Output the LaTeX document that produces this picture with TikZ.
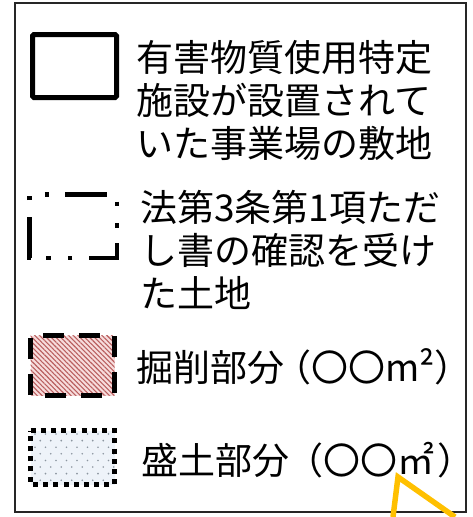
\documentclass[tikz,border=0pt]{standalone}
\usepackage{fontspec}
\newfontfamily\jp{Noto Sans CJK JP}
\usetikzlibrary{patterns.meta}
\definecolor{callgold}{RGB}{255,192,0}
\definecolor{cutpink}{RGB}{247,220,220}
\definecolor{cutline}{RGB}{185,95,95}
\definecolor{fillblue}{RGB}{238,243,249}
\definecolor{filldot}{RGB}{140,150,160}

\begin{document}
\begin{tikzpicture}[x=1pt,y=-1pt,
  legtext/.style={anchor=base west,inner sep=0pt,align=left,
    font=\jp\fontsize{37}{43}\selectfont},
  frame/.style={line width=2pt,draw=black!85},
  solidbox/.style={line width=5pt,rounded corners=1.5pt},
  dashdotbox/.style={line width=4.5pt,
    dash pattern=on 42pt off 17pt on 4.5pt off 17pt on 4.5pt off 15.67pt},
  cutbox/.style={line width=5pt,dash pattern=on 21pt off 15pt,dash phase=23.5pt},
  fillbox/.style={line width=5pt,dash pattern=on 5pt off 5.22pt},
  callout/.style={draw=callgold,line width=5.5pt}]
  \useasboundingbox (0,0) rectangle (472,517);
  % outer frame
  \draw[frame] (15,3) rectangle (466,512);
  % swatches
  \draw[solidbox] (32.5,34.5) rectangle (116.5,97.5);
  \draw[dashdotbox] (65,194.25) -- (116.75,194.25) -- (116.75,257.75)
    -- (29.25,257.75) -- (29.25,194.25) -- cycle;
  \fill[cutpink] (30.5,335.5) rectangle (114.5,395.5);
  \fill[pattern={Lines[angle=-45,distance=3.4pt,line width=1.1pt]},
    pattern color=cutline] (30.5,335.5) rectangle (114.5,395.5);
  \draw[cutbox] (30.5,335.5) -- (114.5,335.5) -- (114.5,395.5)
    -- (30.5,395.5) -- cycle;
  \fill[fillblue] (30.5,430.5) rectangle (114.5,484.5);
  \begin{scope}
    \clip (30.5,430.5) rectangle (114.5,484.5);
    \foreach \r in {0,...,8}
      \foreach \c in {0,...,8}
        \fill[filldot] ({35+\c*10.5+mod(\r,2)*5.25},{434+\r*6.6}) circle (0.9pt);
  \end{scope}
  \draw[fillbox] (30.5,430.5) -- (114.5,430.5) -- (114.5,484.5)
    -- (30.5,484.5) -- cycle;
  % labels (base = last line)
  \node[legtext] (site) at (136,157) {有害物質使用特定\\施設が設置されて\\いた事業場の敷地};
  \node[legtext] (exempt) at (140,307) {法第3条第1項ただ\\し書の確認を受け\\た土地};
  \node[legtext] (cut) at (136,381) {掘削部分\kern-10pt（〇〇m²）};
  \node[legtext] (fill) at (141,474) {盛土部分\kern-3pt（〇〇㎡\kern3pt）};
  % callout
  \coordinate (tip) at (398,477);
  \coordinate (legl) at (393,517);
  \coordinate (legr) at (455,517);
  \draw[callout] (legl) -- (tip) -- (legr);
\end{tikzpicture}
\end{document}
